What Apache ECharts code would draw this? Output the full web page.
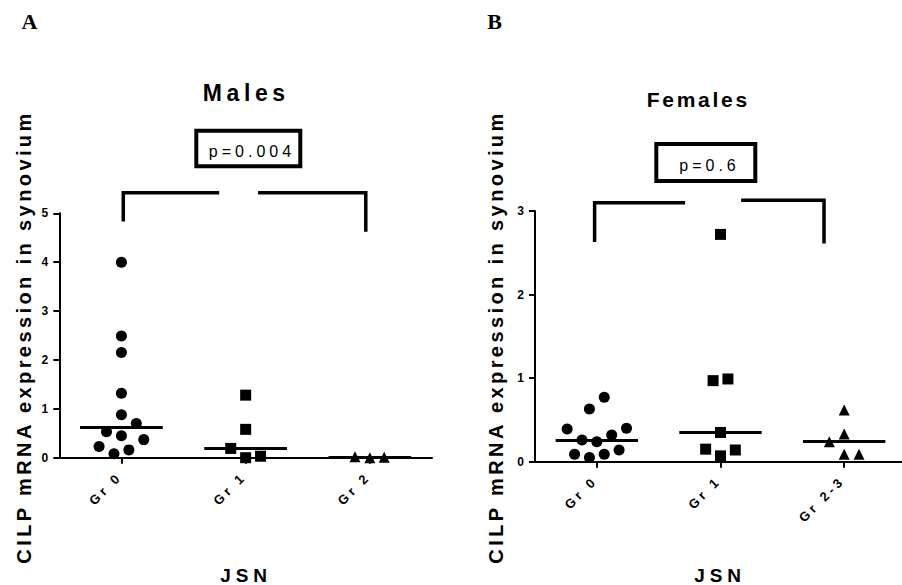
<!DOCTYPE html>
<html>
<head>
<meta charset="utf-8">
<script src="https://cdn.jsdelivr.net/npm/echarts@6/dist/echarts.min.js"></script>
<style>
html, body { margin: 0; padding: 0; background: #fff; }
#main { width: 902px; height: 585px; }
</style>
</head>
<body>
<div id="main"></div>
<script>
// categories (JSN grade)
var maleCats = ['Gr 0', 'Gr 1', 'Gr 2'];
var femaleCats = ['Gr 0', 'Gr 1', 'Gr 2-3'];
var maleYTicks = [0, 1, 2, 3, 4, 5];
var femaleYTicks = [0, 1, 2, 3];

// CILP mRNA values
var maleGr0 = [4.0, 2.49, 2.15, 1.32, 0.88, 0.70, 0.53, 0.45, 0.37, 0.23, 0.16, 0.08];
var maleGr1 = [1.28, 0.58, 0.19, 0.03, 0.0];
var maleGr2 = [0.02, 0.0, 0.01];
var femaleGr0 = [0.77, 0.63, 0.39, 0.40, 0.26, 0.24, 0.32, 0.09, 0.05, 0.09, 0.14];
var femaleGr1 = [2.72, 0.97, 0.99, 0.35, 0.15, 0.14, 0.07];
var femaleGr23 = [0.62, 0.33, 0.24, 0.09, 0.09];

// sideways spread of the dots, in category units
var maleGr0Dx = [0, 0, 0, 0, 0, 0.12, -0.12, 0, 0.18, -0.18, 0.06, -0.06];
var maleGr1Dx = [0, 0, -0.12, 0.12, 0];
var maleGr2Dx = [-0.12, 0, 0.115];
var femaleGr0Dx = [0.06, -0.06, -0.24, 0.24, -0.12, 0, 0.12, -0.18, -0.06, 0.06, 0.18];
var femaleGr1Dx = [0, -0.06, 0.06, 0, -0.12, 0.12, 0];
var femaleGr23Dx = [0, 0, -0.12, 0, 0.12];

var pMales = 'p=0.004';
var pFemales = 'p=0.6';

// comparison brackets [x, y] in axis units
var maleBracketL = [[0.015, 4.83], [0.015, 5.42], [0.787, 5.42]];
var maleBracketR = [[1.10, 5.42], [1.967, 5.42], [1.967, 4.62]];
var femaleBracketL = [[-0.018, 2.63], [-0.018, 3.10], [0.714, 3.10]];
var femaleBracketR = [[1.167, 3.13], [1.837, 3.13], [1.837, 2.61]];

var yName = 'CILP mRNA expression in synovium';
var FONT = '"Liberation Sans", Arial, sans-serif';

function median(a) {
    var s = a.slice().sort(function (x, y) { return x - y; });
    var n = s.length;
    return n % 2 ? s[(n - 1) / 2] : (s[n / 2 - 1] + s[n / 2]) / 2;
}

function dots(vals, dx, idx, symbol, xi, yi) {
    var m = median(vals);
    return {
        type: 'scatter',
        xAxisIndex: xi,
        yAxisIndex: yi,
        symbol: symbol,
        symbolSize: 11,
        itemStyle: { color: '#000', opacity: 1 },
        emphasis: { disabled: true },
        silent: true,
        data: vals.map(function (v, k) { return [idx + dx[k], v]; }),
        markLine: {
            silent: true,
            symbol: ['none', 'none'],
            label: { show: false },
            emphasis: { disabled: true },
            lineStyle: { color: '#000', width: 3, type: 'solid', opacity: 1 },
            data: [[{ coord: [idx - 0.333, m] }, { coord: [idx + 0.333, m] }]]
        }
    };
}

function bracket(pts, xi, yi) {
    return {
        type: 'line',
        xAxisIndex: xi,
        yAxisIndex: yi,
        data: pts,
        symbol: 'none',
        clip: false,
        silent: true,
        lineStyle: { color: '#000', width: 3.5, join: 'miter', cap: 'butt' }
    };
}

function catAxis(cats, gi) {
    return {
        type: 'category',
        gridIndex: gi,
        data: cats,
        boundaryGap: true,
        axisLine: { show: true, onZero: false, lineStyle: { color: '#000', width: 2 } },
        axisTick: { show: true, alignWithLabel: true, length: 6, lineStyle: { color: '#000', width: 2 } },
        axisLabel: {
            rotate: 45, margin: 15, padding: [0, 2.5, 0, 0],
            color: '#000', fontFamily: FONT, fontWeight: 'bold', fontSize: 13
        },
        splitLine: { show: false }
    };
}

function hiddenX(gi) {
    return { type: 'value', gridIndex: gi, min: -0.5, max: 2.5, show: false };
}

function valAxis(ticks, gi) {
    return {
        type: 'value',
        gridIndex: gi,
        min: ticks[0],
        max: ticks[ticks.length - 1],
        interval: 1,
        axisLine: { show: true, onZero: false, lineStyle: { color: '#000', width: 2 } },
        axisTick: { show: true, length: 6, lineStyle: { color: '#000', width: 2 } },
        axisLabel: { margin: 11, color: '#000', fontFamily: FONT, fontWeight: 'bold', fontSize: 12 },
        splitLine: { show: false }
    };
}

function txt(x, y, text, font, rot) {
    return {
        type: 'text', x: x, y: y, rotation: rot || 0, silent: true, z: 10,
        style: { text: text, font: font, fill: '#000', align: 'center', verticalAlign: 'middle' }
    };
}

var dom = document.getElementById('main');
var myChart = echarts.init(dom, null, { renderer: 'svg' });

var option = {
    animation: false,
    backgroundColor: '#fff',
    grid: [
        { left: 59.3, top: 213.3, width: 372.7, height: 244.4, outerBoundsMode: 'none', containLabel: false },
        { left: 535, top: 211, width: 371, height: 250.7, outerBoundsMode: 'none', containLabel: false }
    ],
    xAxis: [catAxis(maleCats, 0), hiddenX(0), catAxis(femaleCats, 1), hiddenX(1)],
    yAxis: [valAxis(maleYTicks, 0), valAxis(femaleYTicks, 1)],
    series: [
        dots(maleGr0, maleGr0Dx, 0, 'circle', 1, 0),
        dots(maleGr1, maleGr1Dx, 1, 'rect', 1, 0),
        dots(maleGr2, maleGr2Dx, 2, 'triangle', 1, 0),
        dots(femaleGr0, femaleGr0Dx, 0, 'circle', 3, 1),
        dots(femaleGr1, femaleGr1Dx, 1, 'rect', 3, 1),
        dots(femaleGr23, femaleGr23Dx, 2, 'triangle', 3, 1),
        bracket(maleBracketL, 1, 0),
        bracket(maleBracketR, 1, 0),
        bracket(femaleBracketL, 3, 1),
        bracket(femaleBracketR, 3, 1)
    ],
    graphic: [
        txt(29.5, 21, 'A', 'bold 22px "Liberation Serif", serif'),
        txt(494.5, 21, 'B', 'bold 22px "Liberation Serif", serif'),
        txt(246.3, 93, 'Males', 'bold 23px ' + FONT),
        txt(698.3, 99, 'Females', 'bold 21px ' + FONT),
        {
            type: 'rect', z: 10, silent: true,
            shape: { x: 196.3, y: 130.7, width: 104, height: 35.6 },
            style: { fill: 'none', stroke: '#000', lineWidth: 4 }
        },
        txt(252, 151.5, pMales, '16px ' + FONT),
        {
            type: 'rect', z: 10, silent: true,
            shape: { x: 656.3, y: 144, width: 99, height: 37 },
            style: { fill: 'none', stroke: '#000', lineWidth: 4 }
        },
        txt(709.5, 165, pFemales, '16px ' + FONT),
        txt(24, 337, yName, 'bold 20px ' + FONT, Math.PI / 2),
        txt(495.5, 337, yName, 'bold 20px ' + FONT, Math.PI / 2),
        txt(246, 575, 'JSN', 'bold 19px ' + FONT),
        txt(720, 575, 'JSN', 'bold 19px ' + FONT)
    ]
};

if (option && typeof option === "object") {
    myChart.setOption(option, true);
}

// the figure uses wide letter spacing; add it on the svg text nodes
var spacing = {
    'CILP mRNA expression in synovium': 3.4,
    'JSN': 4.9,
    'Males': 4.6,
    'Females': 2.7,
    'p=0.004': 4,
    'p=0.6': 4,
    'Gr 0': 3.5,
    'Gr 1': 3.5,
    'Gr 2': 3.5,
    'Gr 2-3': 3.5
};
function applySpacing() {
    var ts = dom.querySelectorAll('text');
    for (var i = 0; i < ts.length; i++) {
        var s = spacing[ts[i].textContent];
        if (s) ts[i].setAttribute('letter-spacing', s);
    }
}
myChart.on('finished', applySpacing);
setTimeout(applySpacing, 50);
setTimeout(applySpacing, 300);
</script>
</body>
</html>
